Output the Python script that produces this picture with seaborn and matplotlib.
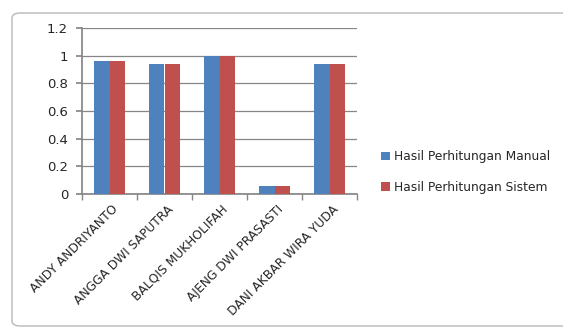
import matplotlib
matplotlib.use("Agg")
import matplotlib.pyplot as plt
import matplotlib.transforms as mtrans
import seaborn as sns
import pandas as pd
from matplotlib.patches import FancyBboxPatch

names = ["ANDY ANDRIYANTO", "ANGGA DWI SAPUTRA", "BALQIS MUKHOLIFAH",
         "AJENG DWI PRASASTI", "DANI AKBAR WIRA YUDA"]
manual = [0.96, 0.94, 1.0, 0.06, 0.94]
sistem = [0.96, 0.94, 1.0, 0.06, 0.94]
series = ["Hasil Perhitungan Manual", "Hasil Perhitungan Sistem"]
yticks = [0, 0.2, 0.4, 0.6, 0.8, 1, 1.2]
ytick_labels = ["0", "0.2", "0.4", "0.6", "0.8", "1", "1.2"]

df = pd.DataFrame({
    "name": names * 2,
    "value": manual + sistem,
    "series": [series[0]] * len(names) + [series[1]] * len(names),
})

sns.set_theme(style="white")
plt.rcParams['font.family'] = ['DejaVu Sans']

fig = plt.figure(figsize=(5.63, 3.31), dpi=100)
fig.patch.set_facecolor("white")
border = FancyBboxPatch((12 / 563, 5 / 331), 580 / 563, 313 / 331,
                        boxstyle="round,pad=0,rounding_size=0.015",
                        transform=fig.transFigure, facecolor="none",
                        edgecolor="#b8b8b8", linewidth=1.0, zorder=-5)
fig.patches.append(border)

ax = fig.add_axes([82 / 563, 1 - 194 / 331, 275 / 563, 166 / 331])
ax.set_facecolor("none")
sns.barplot(data=df, x="name", y="value", hue="series", ax=ax,
            palette=["#4F81BD", "#C0504D"], width=0.57, saturation=1,
            errorbar=None, zorder=3, linewidth=0)

ax.set_ylim(0, 1.2)
ax.set_yticks(yticks)
ax.set_yticklabels(ytick_labels, fontsize=9.5)
ax.yaxis.grid(True, color="#868686", linewidth=0.9, zorder=0)
ax.set_axisbelow(True)
ax.set_xlim(-0.5, len(names) - 0.5)
ax.set_xticks(range(len(names)))
ax.set_xticklabels(names, rotation=45, ha="right", rotation_mode="anchor", fontsize=8.8)
ax.set_xticks([i + 0.5 for i in range(-1, len(names))], minor=True)
ax.tick_params(axis="x", which="major", length=0, pad=2)
ax.tick_params(axis="x", which="minor", length=4, color="#868686", direction="out", bottom=True)
ax.tick_params(axis="y", length=4, color="#868686", direction="out", pad=6, left=True)
for lbl in ax.get_xticklabels():
    lbl.set_transform(lbl.get_transform() + mtrans.ScaledTranslation(2 / 100, -6 / 100, fig.dpi_scale_trans))
ax.set_xlabel("")
ax.set_ylabel("")
for s in ["top", "right"]:
    ax.spines[s].set_visible(False)
ax.spines["left"].set_color("#868686")
ax.spines["bottom"].set_color("#868686")

handles, labels = ax.get_legend_handles_labels()
ax.legend(handles, labels, loc="center left", bbox_to_anchor=(370 / 563, 1 - 172 / 331),
          bbox_transform=fig.transFigure, frameon=False, fontsize=8.8,
          handlelength=0.7, handleheight=0.7, handletextpad=0.4, labelspacing=1.4)

fig.savefig("out.png", dpi=100, facecolor="white")
